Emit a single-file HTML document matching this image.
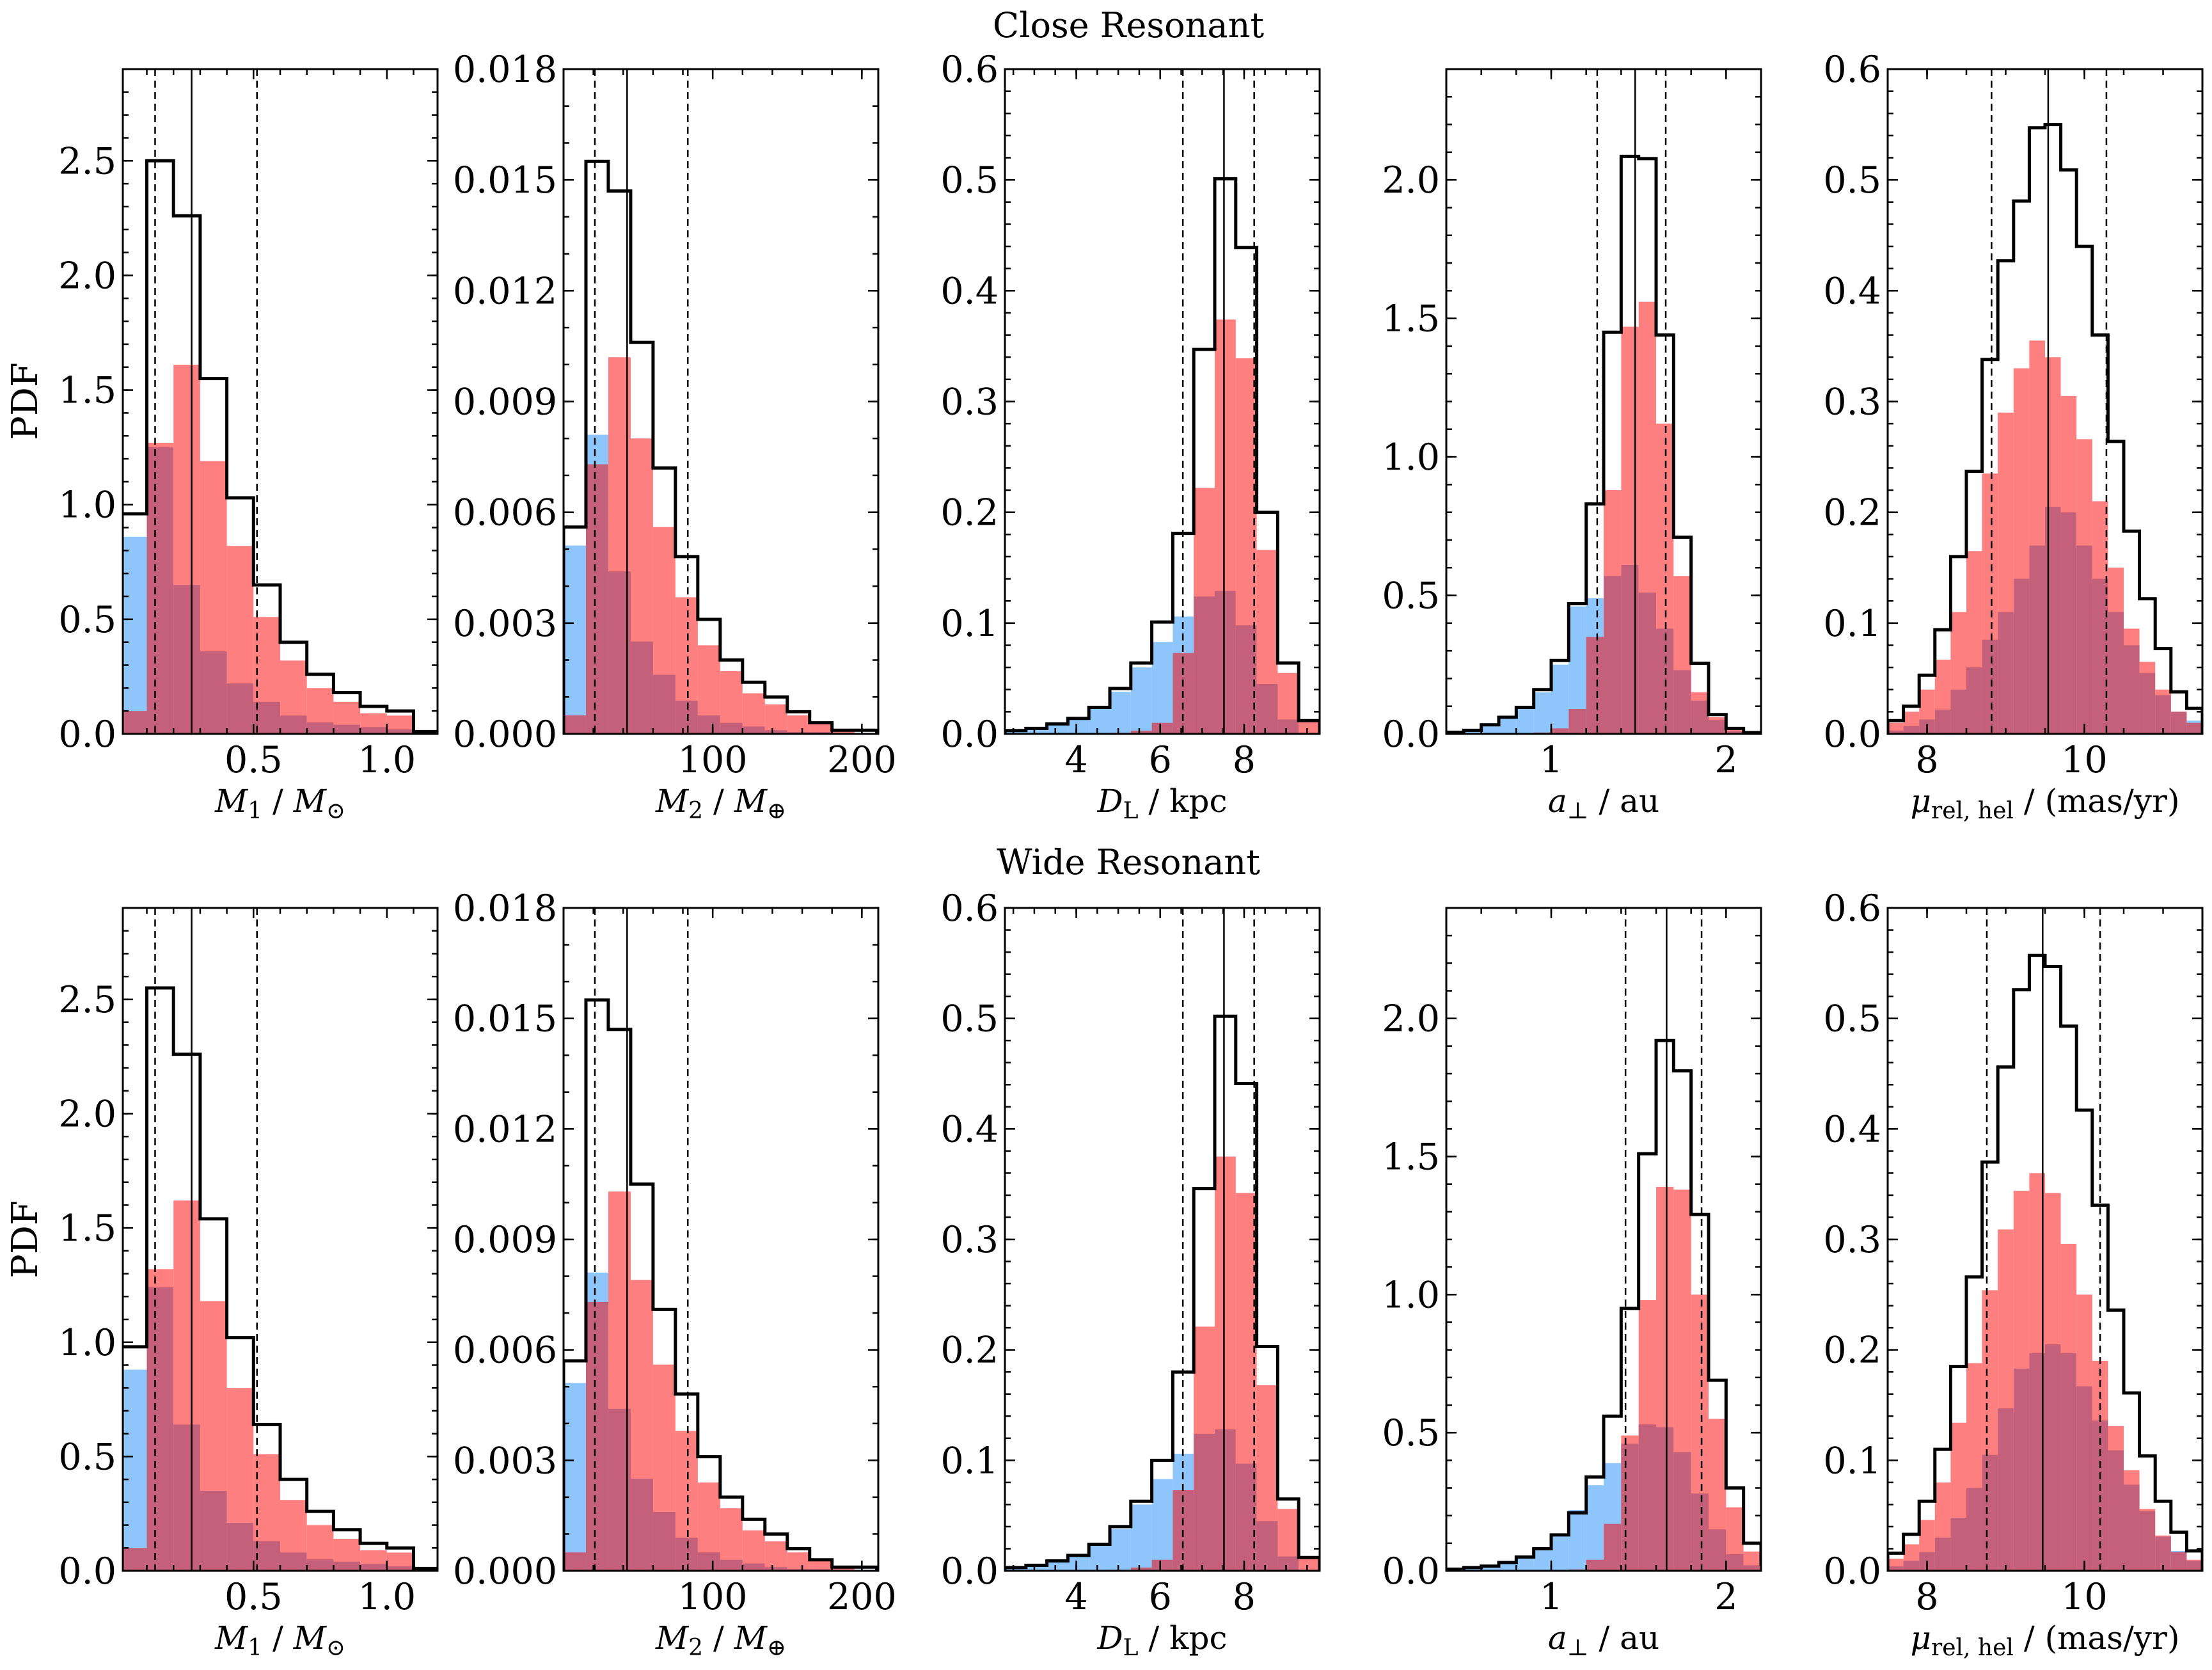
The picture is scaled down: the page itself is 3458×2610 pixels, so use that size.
<!DOCTYPE html>
<html><head><meta charset="utf-8">
<style>
html,body{margin:0;padding:0;background:#fff;}
svg{display:block;font-family:"DejaVu Serif","Liberation Serif",serif;}
</style></head>
<body>
<svg id="fig" width="3458" height="2610" viewBox="0 0 3458 2610" xmlns="http://www.w3.org/2000/svg">
<rect width="3458" height="2610" fill="#fff"/>
<text x="1764" y="58" font-size="54" text-anchor="middle">Close Resonant</text>
<text x="1764" y="1366" font-size="54" text-anchor="middle">Wide Resonant</text>
<text transform="translate(58,627) rotate(-90)" font-size="56" text-anchor="middle">PDF</text>
<text transform="translate(58,1937) rotate(-90)" font-size="56" text-anchor="middle">PDF</text>
</svg>
<script>
// ---- data: Close Resonant (top row) ----
const m1Black1=[0.96,2.50,2.26,1.55,1.03,0.65,0.40,0.26,0.18,0.12,0.10,0.01];
const m1Red1=[0.10,1.27,1.61,1.19,0.82,0.51,0.32,0.20,0.14,0.09,0.08,0.0];
const m1Blue1=[0.86,1.25,0.65,0.36,0.22,0.14,0.08,0.05,0.04,0.03,0.02,0.015];
const m2Black1=[0.0056,0.0155,0.0147,0.0106,0.0072,0.0048,0.0031,0.0020,0.0014,0.0010,0.0006,0.0003,0.0001,0.0001];
const m2Red1=[0.0005,0.0073,0.0102,0.0080,0.0056,0.0037,0.0024,0.0017,0.0011,0.0008,0.0005,0.0003,0.0001,0.0];
const m2Blue1=[0.0051,0.0081,0.0044,0.0025,0.0016,0.0009,0.0005,0.0003,0.0002,0.0001,0.00005,0.00005,0.00003,0.00003];
const dlBlack1=[0.003,0.005,0.009,0.014,0.024,0.041,0.064,0.101,0.181,0.347,0.501,0.439,0.200,0.064,0.012];
const dlRed1=[0,0,0,0,0,0.001,0.003,0.010,0.073,0.222,0.374,0.339,0.166,0.055,0.013];
const dlBlue1=[0.002,0.004,0.009,0.014,0.024,0.038,0.060,0.083,0.106,0.124,0.129,0.098,0.045,0.013,0.001];
const apBlack1=[0.006,0.013,0.033,0.06,0.096,0.16,0.265,0.47,0.83,1.45,2.085,2.077,1.44,0.71,0.255,0.07,0.02,0.005];
const apRed1=[0,0,0,0,0,0.005,0.02,0.09,0.35,0.88,1.47,1.56,1.12,0.57,0.15,0.06,0.015,0.003];
const apBlue1=[0.004,0.01,0.028,0.055,0.09,0.15,0.25,0.46,0.49,0.57,0.61,0.51,0.38,0.23,0.12,0.05,0.01,0.003];
const muBlack1=[0.012,0.025,0.053,0.094,0.16,0.237,0.338,0.427,0.481,0.547,0.55,0.509,0.44,0.36,0.264,0.183,0.122,0.077,0.038,0.023];
const muRed1=[0.01,0.02,0.04,0.067,0.11,0.165,0.235,0.29,0.33,0.355,0.34,0.305,0.266,0.21,0.15,0.095,0.065,0.04,0.02,0.01];
const muBlue1=[0.003,0.007,0.013,0.022,0.04,0.06,0.085,0.11,0.14,0.17,0.205,0.20,0.17,0.14,0.11,0.08,0.055,0.035,0.02,0.012];
// ---- data: Wide Resonant (bottom row) ----
const m1Black2=[0.98,2.55,2.26,1.54,1.02,0.64,0.40,0.26,0.18,0.12,0.10,0.01];
const m1Red2=[0.10,1.32,1.62,1.18,0.80,0.51,0.31,0.20,0.14,0.09,0.08,0.0];
const m1Blue2=[0.88,1.24,0.64,0.35,0.21,0.13,0.08,0.05,0.04,0.03,0.02,0.015];
const m2Black2=[0.0057,0.0155,0.0147,0.0105,0.0071,0.0048,0.0031,0.0020,0.0014,0.0010,0.0006,0.0003,0.0001,0.0001];
const m2Red2=[0.0005,0.0073,0.0103,0.0079,0.0056,0.0038,0.0024,0.0017,0.0011,0.0008,0.0005,0.0003,0.0001,0.0];
const m2Blue2=[0.0051,0.0081,0.0044,0.0025,0.0016,0.0009,0.0005,0.0003,0.0002,0.0001,0.00005,0.00005,0.00003,0.00003];
const dlBlack2=[0.003,0.005,0.009,0.014,0.024,0.040,0.063,0.100,0.180,0.346,0.502,0.441,0.203,0.065,0.012];
const dlRed2=[0,0,0,0,0,0.001,0.003,0.010,0.073,0.221,0.375,0.342,0.168,0.056,0.013];
const dlBlue2=[0.002,0.004,0.009,0.014,0.024,0.038,0.060,0.083,0.106,0.124,0.128,0.097,0.045,0.013,0.001];
const apBlack2=[0.006,0.012,0.017,0.03,0.05,0.08,0.13,0.21,0.34,0.56,0.95,1.51,1.92,1.81,1.29,0.69,0.30,0.10,0.025];
const apRed2=[0,0,0,0,0,0,0,0.005,0.04,0.17,0.49,0.98,1.39,1.38,1.0,0.55,0.23,0.07,0.015];
const apBlue2=[0.004,0.01,0.015,0.027,0.045,0.075,0.13,0.22,0.31,0.39,0.46,0.53,0.52,0.43,0.28,0.15,0.06,0.02,0.005];
const muBlack2=[0.016,0.033,0.063,0.11,0.185,0.266,0.37,0.456,0.526,0.557,0.547,0.493,0.417,0.331,0.236,0.161,0.104,0.063,0.035,0.018];
const muRed2=[0.011,0.024,0.046,0.08,0.134,0.188,0.254,0.309,0.344,0.36,0.342,0.296,0.25,0.19,0.131,0.091,0.056,0.032,0.017,0.01];
const muBlue2=[0.004,0.009,0.017,0.03,0.048,0.075,0.105,0.147,0.183,0.197,0.205,0.197,0.167,0.136,0.109,0.078,0.054,0.031,0.018,0.009];
// percentile lines [lower, median, upper]
const m1Lines1=[0.131,0.268,0.513], m1Lines2=[0.131,0.268,0.513];
const m2Lines1=[21,42.6,83.3], m2Lines2=[21,42.6,83.3];
const dlLines1=[6.54,7.52,8.24], dlLines2=[6.54,7.52,8.24];
const apLines1=[1.263,1.48,1.655], apLines2=[1.425,1.66,1.86];
const muLines1=[8.82,9.54,10.28], muLines2=[8.76,9.47,10.2];
// tick labels
const m1XTicks=["0.5","1.0"], m2XTicks=["100","200"], dlXTicks=["4","6","8"], apXTicks=["1","2"], muXTicks=["8","10"];
const m1YTicks=["0.0","0.5","1.0","1.5","2.0","2.5"];
const m2YTicks=["0.000","0.003","0.006","0.009","0.012","0.015","0.018"];
const dlYTicks=["0.0","0.1","0.2","0.3","0.4","0.5","0.6"];
const apYTicks=["0.0","0.5","1.0","1.5","2.0"];
const muYTicks=dlYTicks;

const NS="http://www.w3.org/2000/svg";
const svg=document.getElementById('fig');
function mk(tag,attrs,parent){const e=document.createElementNS(NS,tag);for(const k in attrs)e.setAttribute(k,attrs[k]);(parent||svg).appendChild(e);return e;}

const X0=[192,881,1571,2261,2951], W=492;
const ROWS=[{top:108,bot:1147},{top:1419,bot:2455}];

const specs=[
 {key:'m1',xlim:[0.01,1.19],binStart:0,binW:0.1,ylim:[0,2.9],xt:m1XTicks,yt:m1YTicks,yStep:0.5,yMinor:0.1,xMinor:0.1},
 {key:'m2',xlim:[0,211],binStart:0,binW:15,ylim:[0,0.018],xt:m2XTicks,yt:m2YTicks,yStep:0.003,yMinor:0.001,xMinor:20},
 {key:'dl',xlim:[2.3,9.8],binStart:2.3,binW:0.5,ylim:[0,0.6],xt:dlXTicks,yt:dlYTicks,yStep:0.1,yMinor:0.02,xMinor:0.5},
 {key:'ap',xlim:[0.4,2.2],binStart:0.4,binW:0.1,ylim:[0,2.4],xt:apXTicks,yt:apYTicks,yStep:0.5,yMinor:0.1,xMinor:0.2},
 {key:'mu',xlim:[7.5,11.5],binStart:7.5,binW:0.2,ylim:[0,0.6],xt:muXTicks,yt:muYTicks,yStep:0.1,yMinor:0.02,xMinor:0.5}
];
const dataTop=[[m1Black1,m1Red1,m1Blue1,m1Lines1],[m2Black1,m2Red1,m2Blue1,m2Lines1],[dlBlack1,dlRed1,dlBlue1,dlLines1],[apBlack1,apRed1,apBlue1,apLines1],[muBlack1,muRed1,muBlue1,muLines1]];
const dataBot=[[m1Black2,m1Red2,m1Blue2,m1Lines2],[m2Black2,m2Red2,m2Blue2,m2Lines2],[dlBlack2,dlRed2,dlBlue2,dlLines2],[apBlack2,apRed2,apBlue2,apLines2],[muBlack2,muRed2,muBlue2,muLines2]];

function xlabel(g,key,cx,y){
  const t=mk('text',{x:cx,y:y,'font-size':50,'text-anchor':'middle'},g);
  
  
  const parts={
    m1:[['M','i',0],['1','',1],[' / ','',0],['M','i',0],['⊙','',1]],
    m2:[['M','i',0],['2','',1],[' / ','',0],['M','i',0],['⊕','',1]],
    dl:[['D','i',0],['L','',1],[' / kpc','',0]],
    ap:[['a','i',0],['⊥','',1],[' / au','',0]],
    mu:[['μ','i',0],['rel, hel','',1],[' / (mas/yr)','',0]]
  }[key];
  parts.forEach(p=>{
    const s=mk('tspan',{},t);
    if(p[1]==='i') s.setAttribute('font-style','italic');
    if(p[2]){s.setAttribute('font-size','36');s.setAttribute('dy','10');}
    else if(s.previousSibling && s.previousSibling.getAttribute('dy')==='10'){s.setAttribute('dy','-10');}
    s.textContent=p[0];
  });
}

function panel(row,col,d){
  const sp=specs[col];
  const x0=X0[col], x1=x0+W, top=ROWS[row].top, bot=ROWS[row].bot;
  const sx=v=>x0+(v-sp.xlim[0])/(sp.xlim[1]-sp.xlim[0])*W;
  const sy=v=>bot-(v-sp.ylim[0])/(sp.ylim[1]-sp.ylim[0])*(bot-top);
  const g=mk('g',{});
  
  
  const cid='clip'+row+col;
  const cp=mk('clipPath',{id:cid},g);
  mk('rect',{x:x0,y:top,width:W,height:bot-top},cp);
  const pg=mk('g',{'clip-path':'url(#'+cid+')'},g);
  const [blk,red,blu,lines]=d;
  for(let i=0;i<blk.length;i++){
    const a=sx(sp.binStart+i*sp.binW), b=sx(sp.binStart+(i+1)*sp.binW);
    const r=red[i], u=blu[i], lo=Math.min(r,u), hi=Math.max(r,u);
    if(hi>0){
      const e=mk('rect',{x:a,y:sy(hi),width:b-a,height:bot-sy(hi),fill:r>=u?'#fe7f7f':'#8ec6fc'},pg);
      
      
    }
    if(lo>0){
      const e=mk('rect',{x:a,y:sy(lo),width:b-a,height:bot-sy(lo),fill:'#c46079'},pg);
      
      
    }
  }
  let p='M'+sx(sp.binStart)+','+bot;
  for(let i=0;i<blk.length;i++){
    const a=sx(sp.binStart+i*sp.binW), b=sx(sp.binStart+(i+1)*sp.binW);
    p+=' L'+a+','+sy(blk[i])+' L'+b+','+sy(blk[i]);
  }
  p+=' L'+sx(sp.binStart+blk.length*sp.binW)+','+bot;
  const st=mk('path',{d:p,fill:'none',stroke:'#000','stroke-width':5},pg);
  
  
  lines.forEach((v,k)=>{
    const l=mk('line',{x1:sx(v),x2:sx(v),y1:top,y2:bot,stroke:'#000','stroke-width':2.5},pg);
    if(k!==1) l.setAttribute('stroke-dasharray','11,7');
    
    
  });
  const tg=mk('g',{stroke:'#000','stroke-width':2.5},g);
  const eps=1e-9;
  for(let v=Math.ceil(sp.xlim[0]/sp.xMinor)*sp.xMinor; v<=sp.xlim[1]+eps; v+=sp.xMinor){
    const xx=sx(v);
    mk('line',{x1:xx,x2:xx,y1:bot,y2:bot-9},tg);mk('line',{x1:xx,x2:xx,y1:top,y2:top+9},tg);
  }
  for(let v=sp.ylim[0]; v<=sp.ylim[1]+eps; v+=sp.yMinor){
    const yy=sy(v);
    mk('line',{x1:x0,x2:x0+9,y1:yy,y2:yy},tg);mk('line',{x1:x1,x2:x1-9,y1:yy,y2:yy},tg);
  }
  sp.yt.forEach((s,i)=>{
    const yy=sy(i*sp.yStep);
    mk('line',{x1:x0,x2:x0+16,y1:yy,y2:yy},tg);mk('line',{x1:x1,x2:x1-16,y1:yy,y2:yy},tg);
    const t=mk('text',{x:x0-10,y:yy+20,'font-size':57,'text-anchor':'end'},g);
    
    
    t.textContent=s;
  });
  sp.xt.forEach(s=>{
    const v=parseFloat(s), xx=sx(v);
    mk('line',{x1:xx,x2:xx,y1:bot,y2:bot-16},tg);mk('line',{x1:xx,x2:xx,y1:top,y2:top+16},tg);
    const t=mk('text',{x:xx,y:bot+60,'font-size':57,'text-anchor':'middle'},g);
    
    
    t.textContent=s;
  });
  const fr=mk('rect',{x:x0,y:top,width:W,height:bot-top,fill:'none',stroke:'#000','stroke-width':3},g);
  
  
  xlabel(g,sp.key,x0+W/2,bot+122);
}
for(let c=0;c<5;c++){panel(0,c,dataTop[c]);panel(1,c,dataBot[c]);}
</script>
</body></html>
